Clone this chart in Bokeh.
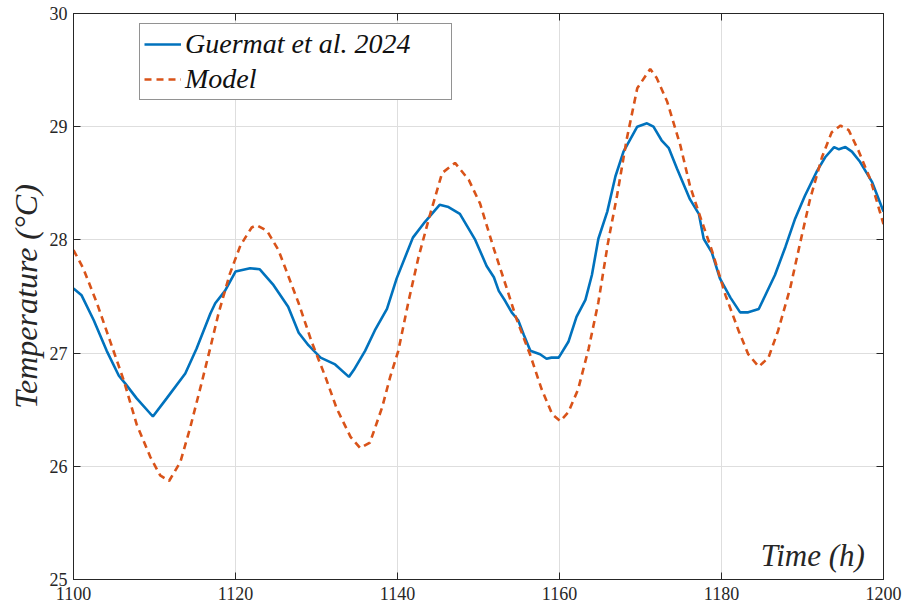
from bokeh.plotting import figure
from bokeh.models import Legend, LegendItem, LinearAxis, Label, Range1d, FixedTicker
from bokeh.embed import file_html
from bokeh.resources import INLINE

# Measured series (Guermat et al. 2024)
guermat_t = [1100.0, 1101.0, 1102.5, 1104.1, 1105.6, 1106.4, 1107.8, 1109.8, 1111.5, 1113.8,
             1115.2, 1116.9, 1117.5, 1118.7, 1120.0, 1121.8, 1123.0, 1124.7, 1126.5, 1127.8,
             1129.0, 1130.5, 1132.3, 1134.0, 1134.6, 1136.0, 1137.2, 1138.7, 1139.9, 1141.9,
             1143.4, 1145.2, 1146.3, 1147.7, 1149.6, 1151.0, 1151.9, 1152.5, 1153.3, 1154.1,
             1154.9, 1155.6, 1156.4, 1157.6, 1158.4, 1159.0, 1159.9, 1161.1, 1162.1, 1163.2,
             1164.0, 1164.8, 1165.9, 1166.9, 1167.9, 1169.6, 1170.8, 1171.6, 1172.6, 1173.5,
             1174.5, 1176.1, 1177.2, 1177.8, 1178.8, 1179.8, 1181.1, 1182.3, 1183.3, 1184.6,
             1185.6, 1186.6, 1187.9, 1189.1, 1190.3, 1191.8, 1192.8, 1193.9, 1194.5, 1195.3,
             1196.1, 1197.1, 1198.6, 1200.0]
guermat_temp = [27.57, 27.51, 27.29, 27.02, 26.80, 26.73, 26.60, 26.44, 26.60, 26.82,
                27.04, 27.35, 27.44, 27.55, 27.72, 27.75, 27.74, 27.60, 27.41, 27.18,
                27.07, 26.96, 26.90, 26.79, 26.85, 27.02, 27.20, 27.39, 27.66, 28.02,
                28.16, 28.31, 28.29, 28.23, 28.00, 27.77, 27.67, 27.55, 27.46, 27.36,
                27.29, 27.16, 27.02, 26.99, 26.95, 26.96, 26.96, 27.10, 27.32, 27.47,
                27.69, 28.01, 28.25, 28.56, 28.78, 29.00, 29.03, 29.00, 28.88, 28.81,
                28.63, 28.36, 28.23, 28.01, 27.89, 27.66, 27.49, 27.36, 27.36, 27.39,
                27.54, 27.69, 27.94, 28.19, 28.39, 28.61, 28.73, 28.82, 28.80, 28.82,
                28.78, 28.69, 28.51, 28.25]

# Model series
model_t = [1100.0, 1101.2, 1102.9, 1104.5, 1106.2, 1107.8, 1109.5, 1110.7, 1111.8, 1113.2,
           1114.4, 1115.9, 1116.9, 1117.9, 1119.3, 1120.6, 1122.0, 1122.6, 1123.9, 1125.3,
           1126.1, 1127.8, 1129.4, 1131.1, 1132.5, 1134.2, 1135.4, 1136.6, 1138.1, 1139.1,
           1140.1, 1141.4, 1142.6, 1144.0, 1145.5, 1147.1, 1148.8, 1150.2, 1151.9, 1153.5,
           1154.7, 1156.4, 1157.8, 1159.1, 1160.1, 1161.1, 1162.3, 1163.6, 1164.8, 1166.0,
           1167.1, 1168.3, 1169.6, 1171.2, 1172.0, 1173.3, 1174.9, 1176.1, 1177.2, 1178.8,
           1180.5, 1182.1, 1183.3, 1184.6, 1185.8, 1187.0, 1188.5, 1189.7, 1190.9, 1192.4,
           1193.6, 1194.7, 1195.7, 1196.9, 1198.4, 1200.0]
model_temp = [27.91, 27.75, 27.44, 27.11, 26.76, 26.37, 26.08, 25.92, 25.87, 26.04,
              26.34, 26.76, 27.05, 27.35, 27.70, 27.95, 28.11, 28.13, 28.08, 27.91,
              27.76, 27.44, 27.10, 26.79, 26.51, 26.26, 26.16, 26.21, 26.52, 26.79,
              27.02, 27.47, 27.85, 28.22, 28.59, 28.68, 28.53, 28.32, 27.92, 27.57,
              27.30, 26.98, 26.68, 26.46, 26.40, 26.48, 26.68, 27.04, 27.45, 27.98,
              28.39, 28.89, 29.34, 29.51, 29.43, 29.22, 28.84, 28.48, 28.24, 27.91,
              27.51, 27.20, 26.99, 26.88, 26.96, 27.20, 27.58, 27.97, 28.35, 28.73,
              28.95, 29.01, 28.97, 28.79, 28.53, 28.14]

x_ticks = [1100, 1120, 1140, 1160, 1180, 1200]
y_ticks = [25, 26, 27, 28, 29, 30]

SERIF = "Liberation Serif"
AX = "#262626"

p = figure(width=906, height=610, output_backend="svg", toolbar_location=None,
           x_range=Range1d(1100, 1200), y_range=Range1d(25, 30),
           min_border_left=73, min_border_right=23, min_border_top=13, min_border_bottom=31)
p.background_fill_color = "white"
p.border_fill_color = "white"
p.outline_line_color = AX
p.outline_line_width = 1

for ax in (p.xaxis[0], p.yaxis[0]):
    ax.major_tick_in = 7
    ax.major_tick_out = 0
    ax.minor_tick_in = 0
    ax.minor_tick_out = 0
    ax.axis_line_color = AX
    ax.major_tick_line_color = AX
    ax.major_label_text_font = SERIF
    ax.major_label_text_font_size = "18px"
    ax.major_label_text_color = "#262626"

p.xaxis[0].ticker = FixedTicker(ticks=x_ticks)
p.yaxis[0].ticker = FixedTicker(ticks=y_ticks)
p.xaxis[0].major_label_standoff = 7
p.yaxis[0].major_label_standoff = 6

p.yaxis[0].axis_label = "Temperature (°C)"
p.yaxis[0].axis_label_text_font = SERIF
p.yaxis[0].axis_label_text_font_style = "italic"
p.yaxis[0].axis_label_text_font_size = "32px"
p.yaxis[0].axis_label_text_color = "#262626"
p.yaxis[0].axis_label_standoff = 3

# Mirror ticks on top and right (box), without labels
top = LinearAxis(ticker=FixedTicker(ticks=x_ticks),
                 major_label_overrides={t: "" for t in x_ticks},
                 major_tick_in=7, major_tick_out=0, minor_tick_in=0, minor_tick_out=0,
                 axis_line_color=AX, major_tick_line_color=AX, major_label_standoff=0)
right = LinearAxis(ticker=FixedTicker(ticks=y_ticks),
                   major_label_overrides={t: "" for t in y_ticks},
                   major_tick_in=7, major_tick_out=0, minor_tick_in=0, minor_tick_out=0,
                   axis_line_color=AX, major_tick_line_color=AX, major_label_standoff=0)
p.add_layout(top, "above")
p.add_layout(right, "right")

p.xgrid.ticker = FixedTicker(ticks=x_ticks)
p.ygrid.ticker = FixedTicker(ticks=y_ticks)
p.grid.grid_line_color = "#dedede"
p.grid.grid_line_width = 1

r1 = p.line(guermat_t, guermat_temp, line_color="#0072BD", line_width=2.6)
r2 = p.line(model_t, model_temp, line_color="#D95319", line_width=2.6, line_dash="7 5")

legend = Legend(items=[LegendItem(label="Guermat et al. 2024", renderers=[r1]),
                       LegendItem(label="Model", renderers=[r2])],
                location=(66, 479), orientation="vertical",
                label_text_font=SERIF, label_text_font_style="italic",
                label_text_font_size="28px", label_text_color="#111111",
                glyph_width=37, glyph_height=30, label_height=30, label_width=262,
                spacing=3, padding=4, margin=0, label_standoff=4,
                border_line_color=AX, border_line_width=1,
                background_fill_color="white", background_fill_alpha=1.0)
p.add_layout(legend)

p.add_layout(Label(x=1197.7, y=25.21, text="Time (h)", text_align="right",
                   text_baseline="alphabetic", text_font=SERIF, text_font_style="italic",
                   text_font_size="31px", text_color="#262626"))

open("out.html", "w").write(file_html(p, INLINE))
